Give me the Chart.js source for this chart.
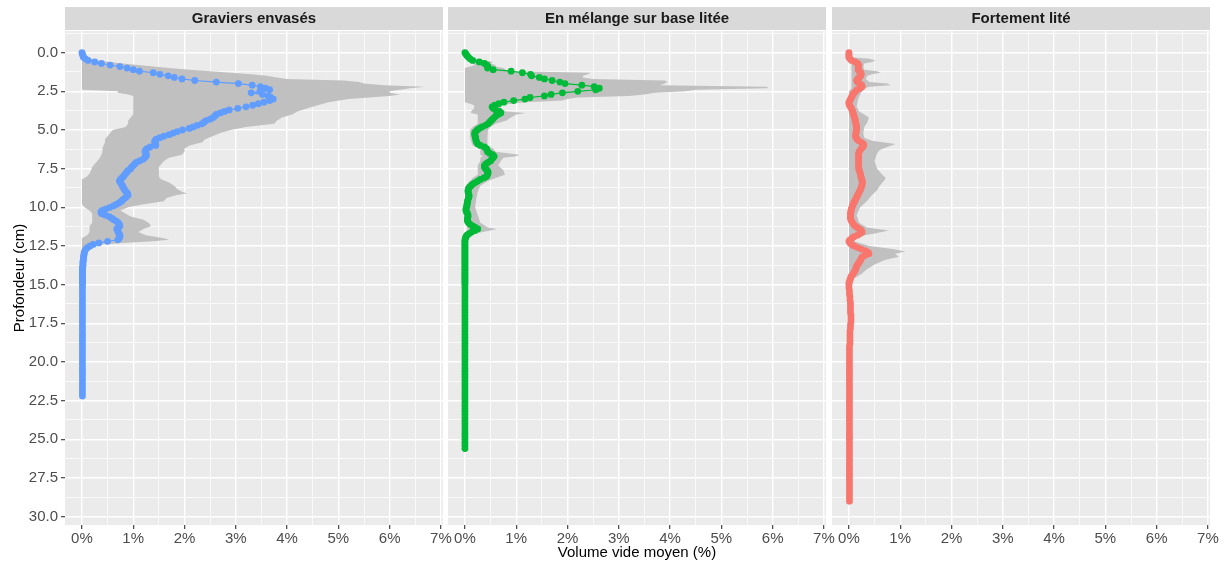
<!DOCTYPE html>
<html>
<head>
<meta charset="utf-8">
<script src="https://cdn.jsdelivr.net/npm/chart.js"></script>
<style>
  html, body { margin: 0; padding: 0; background: #ffffff; }
  #wrap { position: relative; width: 1224px; height: 563px; }
  #wrap canvas { position: absolute; left: 0; top: 0; }
</style>
</head>
<body>
<div id="wrap">
  <canvas id="facet0" width="1224" height="563"></canvas>
  <canvas id="facet1" width="1224" height="563"></canvas>
  <canvas id="facet2" width="1224" height="563"></canvas>
</div>
<script>
var facetTitles = ['Graviers envasés', 'En mélange sur base litée', 'Fortement lité'];
var facetColors = ['#619CFF', '#00BA38', '#F8766D'];
var xTickValues = [0, 1, 2, 3, 4, 5, 6, 7];
var yTickValues = [0, 2.5, 5, 7.5, 10, 12.5, 15, 17.5, 20, 22.5, 25, 27.5, 30];

// depth of each slice (cm), shared by the three mean profiles
var depths = [
  0, 0.1, 0.2, 0.3, 0.4, 0.5, 0.6, 0.7, 0.8, 0.9,
  1, 1.1, 1.2, 1.3, 1.4, 1.5, 1.6, 1.7, 1.8, 1.9,
  2, 2.1, 2.2, 2.3, 2.4, 2.5, 2.6, 2.7, 2.8, 2.9,
  3, 3.1, 3.2, 3.3, 3.4, 3.5, 3.6, 3.7, 3.8, 3.9,
  4, 4.1, 4.2, 4.3, 4.4, 4.5, 4.6, 4.7, 4.8, 4.9,
  5, 5.1, 5.2, 5.3, 5.4, 5.5, 5.6, 5.7, 5.8, 5.9,
  6, 6.1, 6.2, 6.3, 6.4, 6.5, 6.6, 6.7, 6.8, 6.9,
  7, 7.1, 7.2, 7.3, 7.4, 7.5, 7.6, 7.7, 7.8, 7.9,
  8, 8.1, 8.2, 8.3, 8.4, 8.5, 8.6, 8.7, 8.8, 8.9,
  9, 9.1, 9.2, 9.3, 9.4, 9.5, 9.6, 9.7, 9.8, 9.9,
  10, 10.1, 10.2, 10.3, 10.4, 10.5, 10.6, 10.7, 10.8, 10.9,
  11, 11.1, 11.2, 11.3, 11.4, 11.5, 11.6, 11.7, 11.8, 11.9,
  12, 12.1, 12.2, 12.3, 12.4, 12.5, 12.6, 12.7, 12.8, 12.9,
  13, 13.1, 13.2, 13.3, 13.4, 13.5, 13.6, 13.7, 13.8, 13.9,
  14, 14.1, 14.2, 14.3, 14.4, 14.5, 14.6, 14.7, 14.8, 14.9,
  15,
  15.2, 15.4, 15.6, 15.8, 16, 16.2, 16.4, 16.6, 16.8, 17,
  17.2, 17.4, 17.6, 17.8, 18, 18.2, 18.4, 18.6, 18.8, 19,
  19.2, 19.4, 19.6, 19.8, 20, 20.2, 20.4, 20.6, 20.8, 21,
  21.2, 21.4, 21.6, 21.8, 22, 22.2, 22.4, 22.6, 22.8, 23,
  23.2, 23.4, 23.6, 23.8, 24, 24.2, 24.4, 24.6, 24.8, 25,
  25.2, 25.4, 25.6, 25.8, 26, 26.2, 26.4, 26.6, 26.8, 27,
  27.2, 27.4, 27.6, 27.8, 28, 28.2, 28.4, 28.6, 28.8, 29
];

// mean void volume (%) per slice
var meanGraviers = [
  0, 0.01, 0.02, 0.03, 0.07, 0.12, 0.25, 0.38, 0.55, 0.74,
  0.88, 1.0, 1.12, 1.39, 1.52, 1.68, 1.8, 1.95, 2.2, 2.62,
  3.05, 3.32, 3.48, 3.58, 3.66, 3.47, 3.3, 3.52, 3.63, 3.68,
  3.73, 3.66, 3.55, 3.44, 3.33, 3.2, 3.04, 2.87, 2.78, 2.7,
  2.62, 2.59, 2.56, 2.5, 2.42, 2.38, 2.34, 2.25, 2.17, 2.09,
  1.96, 1.86, 1.78, 1.7, 1.6, 1.52, 1.45, 1.42, 1.42, 1.44,
  1.44, 1.33, 1.27, 1.24, 1.23, 1.24, 1.26, 1.25, 1.22, 1.19,
  1.12, 1.06, 1.03, 1.0, 0.97, 0.95, 0.91, 0.88, 0.86, 0.83,
  0.81, 0.78, 0.75, 0.73, 0.75, 0.77, 0.79, 0.8, 0.82, 0.84,
  0.86, 0.89, 0.9, 0.87, 0.84, 0.8, 0.77, 0.73, 0.68, 0.62,
  0.55, 0.47, 0.4, 0.37, 0.38, 0.45, 0.53, 0.58, 0.62, 0.67,
  0.71, 0.73, 0.74, 0.71, 0.68, 0.69, 0.71, 0.72, 0.74, 0.74,
  0.73, 0.7, 0.5, 0.33, 0.22, 0.16, 0.11, 0.08, 0.06, 0.05,
  0.04, 0.04, 0.03, 0.03, 0.03, 0.02, 0.02, 0.02, 0.02, 0.01,
  0.01, 0.01, 0.01, 0.01, 0.01, 0.01, 0.01, 0.01, 0.01, 0.01,
  0.01,
  0.01, 0.01, 0.01, 0.01, 0.01, 0.01, 0.01, 0.01, 0.01, 0.01,
  0.01, 0.01, 0.01, 0.01, 0.01, 0.01, 0.01, 0.01, 0.01, 0.01,
  0.01, 0.01, 0.01, 0.01, 0.01, 0.01, 0.01, 0.01, 0.01, 0.01,
  0.01, 0.01, 0.01, 0.01, 0.01, 0.01
];
var meanMelange = [
  0, 0.02, 0.04, 0.07, 0.1, 0.15, 0.28, 0.38, 0.43, 0.45,
  0.44, 0.55, 0.9, 1.12, 1.28, 1.3, 1.45, 1.55, 1.7, 1.85,
  1.95, 2.28, 2.52, 2.62, 2.55, 2.2, 1.9, 1.68, 1.55, 1.27,
  1.17, 0.95, 0.76, 0.66, 0.58, 0.53, 0.55, 0.6, 0.67, 0.7,
  0.65, 0.6, 0.57, 0.54, 0.51, 0.48, 0.45, 0.4, 0.33, 0.28,
  0.24, 0.21, 0.19, 0.19, 0.2, 0.21, 0.21, 0.22, 0.23, 0.25,
  0.3, 0.38, 0.42, 0.43, 0.44, 0.48, 0.54, 0.57, 0.55, 0.52,
  0.5, 0.45, 0.41, 0.38, 0.38, 0.4, 0.43, 0.45, 0.45, 0.44,
  0.42, 0.37, 0.3, 0.25, 0.2, 0.15, 0.12, 0.09, 0.07, 0.06,
  0.06, 0.07, 0.08, 0.08, 0.07, 0.06, 0.05, 0.05, 0.04, 0.04,
  0.03, 0.02, 0.02, 0.03, 0.05, 0.06, 0.06, 0.05, 0.05, 0.05,
  0.07, 0.1, 0.15, 0.2, 0.25, 0.2, 0.13, 0.08, 0.04, 0.02,
  0.01, 0, 0, 0, 0, 0, 0, 0, 0, 0,
  0, 0, 0, 0, 0, 0, 0, 0, 0, 0,
  0, 0, 0, 0, 0, 0, 0, 0, 0, 0,
  0,
  0, 0, 0, 0, 0, 0, 0, 0, 0, 0,
  0, 0, 0, 0, 0, 0, 0, 0, 0, 0,
  0, 0, 0, 0, 0, 0, 0, 0, 0, 0,
  0, 0, 0, 0, 0, 0, 0, 0, 0, 0,
  0, 0, 0, 0, 0, 0, 0, 0, 0, 0,
  0, 0, 0
];
var meanLite = [
  0, 0, 0, 0, 0.02, 0.05, 0.12, 0.17, 0.19, 0.19,
  0.18, 0.18, 0.2, 0.23, 0.24, 0.23, 0.2, 0.17, 0.15, 0.17,
  0.21, 0.25, 0.26, 0.22, 0.16, 0.13, 0.1, 0.08, 0.06, 0.05,
  0.03, 0.02, 0, 0, 0.01, 0.03, 0.05, 0.06, 0.07, 0.08,
  0.09, 0.1, 0.11, 0.12, 0.12, 0.13, 0.14, 0.14, 0.15, 0.15,
  0.15, 0.14, 0.14, 0.13, 0.13, 0.14, 0.16, 0.19, 0.24, 0.28,
  0.29, 0.27, 0.24, 0.22, 0.2, 0.19, 0.19, 0.19, 0.19, 0.19,
  0.19, 0.19, 0.19, 0.19, 0.19, 0.19, 0.2, 0.21, 0.22, 0.23,
  0.23, 0.24, 0.25, 0.26, 0.26, 0.26, 0.25, 0.24, 0.23, 0.22,
  0.2, 0.19, 0.17, 0.16, 0.14, 0.13, 0.11, 0.1, 0.08, 0.07,
  0.06, 0.05, 0.04, 0.04, 0.03, 0.03, 0.03, 0.03, 0.04, 0.05,
  0.07, 0.09, 0.12, 0.16, 0.2, 0.24, 0.26, 0.22, 0.17, 0.1,
  0.06, 0.02, 0, 0.02, 0.05, 0.1, 0.17, 0.24, 0.32, 0.37,
  0.39, 0.32, 0.26, 0.24, 0.23, 0.21, 0.19, 0.17, 0.15, 0.14,
  0.13, 0.12, 0.1, 0.08, 0.06, 0.04, 0.03, 0.02, 0.01, 0,
  0,
  0, 0.01, 0.01, 0.02, 0.02, 0.03, 0.03, 0.03, 0.03, 0.04,
  0.04, 0.04, 0.03, 0.03, 0.02, 0.02, 0.02, 0.02, 0.02, 0.01,
  0.01, 0.01, 0.01, 0.01, 0.01, 0.01, 0.01, 0.01, 0.01, 0.01,
  0.01, 0.01, 0.01, 0.01, 0.01, 0.01, 0.01, 0.01, 0.01, 0.01,
  0.01, 0.01, 0.01, 0.01, 0.01, 0.01, 0.01, 0.01, 0.01, 0.01,
  0.01, 0.01, 0.01, 0.01, 0.01, 0.01, 0.01, 0.01, 0.01, 0.01,
  0.01, 0.01, 0.01, 0.01, 0.01, 0.01, 0.01, 0.01, 0.01, 0.01
];

// spread of the replicates: depth, lower and upper bound (%)
var bandDepthGraviers = [
  0, 0.3, 0.5, 0.6, 0.7, 0.8, 0.9, 1, 1.1, 1.2, 1.3, 1.4, 1.5, 1.6, 1.7, 1.8, 1.9,
  2, 2.1, 2.2, 2.3, 2.4, 2.5, 2.6, 2.7, 2.8, 2.9, 3, 3.2, 3.4, 3.6, 3.8,
  4, 4.2, 4.4, 4.6, 4.8, 5, 5.2, 5.4, 5.6, 5.8, 6, 6.2, 6.4, 6.6, 6.8,
  7, 7.2, 7.4, 7.6, 7.8, 8, 8.2, 8.4, 8.6, 8.8, 9, 9.1, 9.2, 9.4, 9.6, 9.8,
  10, 10.2, 10.4, 10.6, 10.8, 11, 11.2, 11.4, 11.6, 11.8, 12, 12.1, 12.2, 12.3,
  12.4, 12.5, 12.7, 13, 13.5, 22.2
];
var bandLowGraviers = [
  0, 0, 0, 0, 0, 0, 0, 0, 0, 0, 0, 0, 0, 0, 0, 0, 0,
  0, 0, 0, 0, 0, 0.7, 0.7, 0.9, 1.0, 1.0, 1.0, 1.0, 1.0, 1.0, 1.0,
  1.0, 0.95, 0.9, 0.9, 0.85, 0.6, 0.55, 0.5, 0.45, 0.45, 0.42, 0.4, 0.4, 0.38, 0.35,
  0.3, 0.25, 0.2, 0.18, 0.15, 0.1, 0, 0, 0, 0, 0, 0, 0, 0, 0, 0,
  0.05, 0.15, 0.2, 0.2, 0.2, 0.2, 0.15, 0.15, 0.15, 0.1, 0, 0, 0, 0,
  0, 0, 0, 0, 0, 0
];
var bandHighGraviers = [
  0.02, 0.1, 0.3, 0.55, 0.8, 1.1, 1.4, 1.7, 2.1, 2.5, 2.9, 3.3, 3.6, 3.8, 4.0, 5.1, 5.4,
  5.5, 5.9, 6.7, 6.4, 6.2, 6.0, 6.0, 6.2, 6.0, 5.6, 5.2, 4.8, 4.6, 4.4, 4.2,
  4.1, 3.9, 3.8, 3.75, 3.2, 2.9, 2.7, 2.55, 2.4, 2.35, 2.1, 2.0, 2.0, 1.95, 1.7,
  1.6, 1.55, 1.5, 1.5, 1.5, 1.5, 1.55, 1.7, 1.8, 1.85, 1.95, 2.05, 1.85, 1.65, 1.6, 1.2,
  0.9, 0.75, 0.85, 0.95, 1.2, 1.3, 1.35, 1.2, 1.1, 1.25, 1.6, 1.7, 1.4, 0.8,
  0.4, 0.22, 0.12, 0.06, 0.02, 0.01
];

var bandDepthMelange = [
  0, 0.3, 0.5, 0.6, 0.7, 0.8, 0.9, 1, 1.1, 1.2, 1.3, 1.4, 1.5, 1.6, 1.7, 1.8, 1.9,
  2, 2.1, 2.2, 2.3, 2.4, 2.5, 2.6, 2.7, 2.8, 2.9, 3, 3.1, 3.2, 3.3, 3.4, 3.6, 3.8, 3.9,
  4, 4.2, 4.4, 4.6, 4.8, 5, 5.5, 6, 6.2, 6.4, 6.6, 6.7, 6.8,
  7, 7.3, 7.6, 7.9, 8.1, 8.3, 8.6, 9, 9.5, 10, 10.5, 11, 11.3, 11.4, 11.5, 11.7,
  12, 12.3, 25.6
];
var bandLowMelange = [
  0, 0, 0.05, 0.1, 0.15, 0.2, 0.1, 0, 0, 0, 0, 0, 0, 0, 0, 0, 0,
  0, 0, 0, 0, 0, 0, 0, 0, 0, 0, 0, 0, 0, 0.1, 0.18, 0.18, 0.12, 0.12,
  0.25, 0.25, 0.25, 0.25, 0.15, 0.1, 0.1, 0.15, 0.3, 0.3, 0.3, 0.35, 0.3,
  0.3, 0.25, 0.25, 0.25, 0.15, 0.1, 0.02, 0, 0, 0, 0, 0, 0.05, 0.05, 0.05, 0,
  0, 0, 0
];
var bandHighMelange = [
  0.02, 0.1, 0.4, 0.55, 0.5, 0.6, 0.6, 0.75, 0.8, 0.9, 2.45, 2.4, 2.3, 2.3, 2.5, 3.9, 3.95,
  3.9, 3.8, 5.9, 5.9, 4.5, 4.3, 3.7, 3.5, 3.2, 2.2, 2.0, 1.9, 1.2, 0.9, 0.7, 0.7, 0.8, 1.19,
  1.0, 0.9, 0.8, 0.6, 0.5, 0.45, 0.44, 0.44, 0.55, 0.6, 1.06, 1.0, 0.75,
  0.7, 0.65, 0.75, 0.78, 0.6, 0.45, 0.3, 0.25, 0.22, 0.2, 0.25, 0.3, 0.45, 0.62, 0.5, 0.2,
  0.08, 0.03, 0.02
];

var bandDepthLite = [
  0, 0.3, 0.4, 0.5, 0.6, 0.7, 0.9, 1.1, 1.2, 1.3, 1.4, 1.5, 1.7, 1.9, 2, 2.1, 2.2, 2.3, 2.5,
  3, 3.5, 3.8, 4, 4.2, 4.5, 4.8, 5.2, 5.5, 5.7, 5.9, 6.1, 6.3, 6.5,
  7, 7.5, 7.9, 8.1, 8.3, 8.6, 8.9, 9.2, 9.6, 10, 10.5, 11, 11.3, 11.5, 11.7, 11.9,
  12.2, 12.5, 12.7, 12.85, 13, 13.2, 13.4, 13.7, 14, 14.3, 14.6, 15, 29
];
var bandLowLite = [
  0, 0, 0, 0, 0, 0.05, 0.05, 0.05, 0.05, 0.05, 0.05, 0.05, 0.05, 0.05, 0.05, 0.05, 0.05, 0.05, 0,
  0, 0, 0, 0, 0, 0, 0, 0, 0, 0, 0, 0, 0, 0,
  0, 0, 0, 0, 0, 0, 0, 0, 0, 0, 0, 0, 0, 0, 0, 0,
  0, 0, 0, 0, 0, 0, 0, 0, 0, 0, 0, 0, 0
];
var bandHighLite = [
  0.02, 0.05, 0.4, 0.52, 0.45, 0.3, 0.28, 0.3, 0.55, 0.62, 0.45, 0.36, 0.33, 0.4, 0.75, 0.81, 0.4, 0.3, 0.25,
  0.18, 0.15, 0.2, 0.3, 0.39, 0.36, 0.3, 0.28, 0.3, 0.45, 0.91, 0.75, 0.6, 0.55,
  0.5, 0.55, 0.65, 0.72, 0.68, 0.6, 0.55, 0.45, 0.35, 0.22, 0.15, 0.2, 0.35, 0.78, 0.5, 0.15,
  0.1, 0.4, 0.85, 1.1, 0.9, 0.97, 0.7, 0.5, 0.35, 0.25, 0.1, 0.05, 0.03
];

var FONT = "'Liberation Sans', Arial, Helvetica, sans-serif";
Chart.defaults.font.family = FONT;

// panel edges in page pixels and the shared (expanded) axis limits
var panelBounds = [[65, 443], [448, 826], [832, 1210]];
var xLimits = [-0.33, 7.04];
var yLimits = [-1.4, 30.54];

function withMinor(major, extraBefore) {
  var out = extraBefore ? [major[0] - (major[1] - major[0]) / 2] : [];
  major.forEach(function (v, i) {
    out.push(v);
    if (i < major.length - 1) out.push((v + major[i + 1]) / 2);
  });
  return out;
}
var xGrid = withMinor(xTickValues, false);
var yGrid = withMinor(yTickValues, true);

function isMajor(list, v) {
  return list.some(function (m) { return Math.abs(m - v) < 1e-9; });
}

function toPoints(values, depthList) {
  return values.map(function (v, i) { return { x: v, y: depthList[i] }; });
}

function gridOptions(majorList, withTicks) {
  return {
    color: '#FFFFFF',
    lineWidth: function (c) { return c.tick && isMajor(majorList, c.tick.value) ? 1.4 : 0.7; },
    drawTicks: withTicks,
    tickLength: 4,
    tickWidth: 1.1,
    tickColor: function (c) {
      return c.tick && isMajor(majorList, c.tick.value) ? '#333333' : 'rgba(0,0,0,0)';
    }
  };
}

// grey panel background and the facet strip above it
var facetStrip = {
  id: 'facetStrip',
  beforeDraw: function (chart, args, opts) {
    var a = chart.chartArea, ctx = chart.ctx;
    ctx.save();
    ctx.fillStyle = '#EBEBEB';
    ctx.fillRect(a.left, a.top, a.right - a.left, a.bottom - a.top);
    ctx.fillStyle = '#D9D9D9';
    ctx.fillRect(a.left, 7, a.right - a.left, a.top - 8);
    ctx.fillStyle = '#1A1A1A';
    ctx.font = 'bold 15px ' + FONT;
    ctx.textAlign = 'center';
    ctx.textBaseline = 'middle';
    ctx.fillText(opts.text, (a.left + a.right) / 2, (7 + a.top - 1) / 2 + 0.5);
    ctx.restore();
  }
};

var facets = [
  { mean: meanGraviers, bandDepth: bandDepthGraviers, low: bandLowGraviers, high: bandHighGraviers },
  { mean: meanMelange, bandDepth: bandDepthMelange, low: bandLowMelange, high: bandHighMelange },
  { mean: meanLite, bandDepth: bandDepthLite, low: bandLowLite, high: bandHighLite }
];

facets.forEach(function (f, i) {
  var first = i === 0;
  var color = facetColors[i];
  new Chart(document.getElementById('facet' + i), {
    type: 'line',
    data: {
      datasets: [
        {
          data: toPoints(f.low, f.bandDepth),
          borderColor: 'rgba(0,0,0,0)', borderWidth: 0, pointRadius: 0,
          fill: false, order: 2
        },
        {
          data: toPoints(f.high, f.bandDepth),
          borderColor: 'rgba(0,0,0,0)', borderWidth: 0, pointRadius: 0,
          backgroundColor: '#C0C0C0', fill: '-1', order: 1
        },
        {
          data: toPoints(f.mean, depths),
          borderColor: color, backgroundColor: color, borderWidth: 1.2,
          pointRadius: 3.4, pointBorderWidth: 0, pointHoverRadius: 3.4,
          fill: false, order: 0
        }
      ]
    },
    options: {
      indexAxis: 'y',
      responsive: false,
      animation: false,
      devicePixelRatio: 1,
      events: [],
      layout: {
        padding: {
          left: first ? 0 : panelBounds[i][0],
          right: 1224 - panelBounds[i][1],
          top: 31,
          bottom: 0
        }
      },
      plugins: {
        legend: { display: false },
        tooltip: { enabled: false },
        facetStrip: { text: facetTitles[i] }
      },
      scales: {
        x: {
          type: 'linear',
          min: xLimits[0],
          max: xLimits[1],
          afterBuildTicks: function (s) { s.ticks = xGrid.map(function (v) { return { value: v }; }); },
          afterFit: function (s) { s.height = 38; },
          grid: gridOptions(xTickValues, true),
          border: { display: false },
          ticks: {
            autoSkip: false,
            maxRotation: 0,
            padding: 1,
            color: '#4D4D4D',
            font: { size: 15 },
            callback: function (v) { return isMajor(xTickValues, v) ? v + '%' : ''; }
          },
          title: {
            display: i === 1,
            text: 'Volume vide moyen (%)',
            color: '#000000',
            font: { size: 15 },
            padding: { top: 0, bottom: 1 }
          }
        },
        y: {
          type: 'linear',
          reverse: true,
          min: yLimits[0],
          max: yLimits[1],
          afterBuildTicks: function (s) { s.ticks = yGrid.map(function (v) { return { value: v }; }); },
          afterFit: function (s) { s.width = first ? 65 : 0; },
          grid: gridOptions(yTickValues, first),
          border: { display: false },
          ticks: {
            display: first,
            autoSkip: false,
            padding: 3,
            color: '#4D4D4D',
            font: { size: 15 },
            callback: function (v) { return isMajor(yTickValues, v) ? v.toFixed(1) : ''; }
          },
          title: {
            display: first,
            text: 'Profondeur (cm)',
            color: '#000000',
            font: { size: 15 },
            padding: { top: 11, bottom: 0 }
          }
        }
      }
    },
    plugins: [facetStrip]
  });
});
</script>
</body>
</html>
